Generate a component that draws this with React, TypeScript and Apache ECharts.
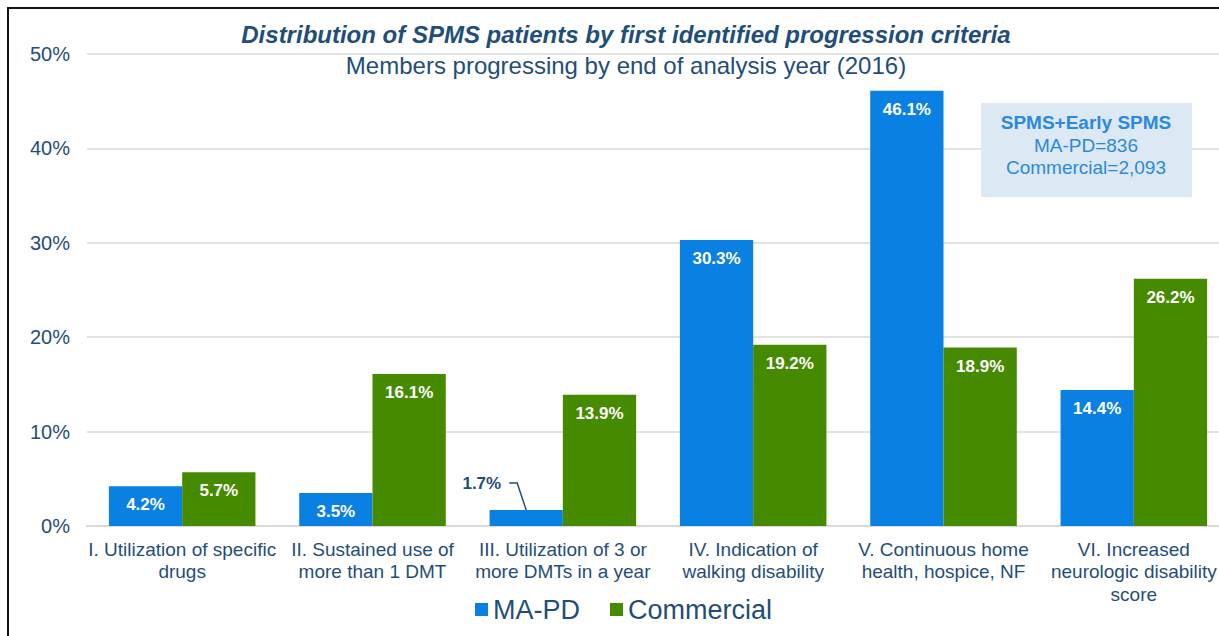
import React, { useEffect, useRef } from "react";
import * as echarts from "echarts";

const titleText = "Distribution of SPMS patients by first identified progression criteria";
const subtitleText = "Members progressing by end of analysis year (2016)";

const categories = [
  "I. Utilization of specific\ndrugs",
  "II. Sustained use of\nmore than 1 DMT",
  "III. Utilization of 3 or\nmore DMTs in a year",
  "IV. Indication of\nwalking disability",
  "V. Continuous home\nhealth, hospice, NF",
  "VI. Increased\nneurologic disability\nscore",
];

const seriesNames = ["MA-PD", "Commercial"];
const maPdValues = [4.2, 3.5, 1.7, 30.3, 46.1, 14.4];
const commercialValues = [5.7, 16.1, 13.9, 19.2, 18.9, 26.2];

const yMin = 0;
const yMax = 50;
const yInterval = 10;

const boxTitle = "SPMS+Early SPMS";
const boxLines = ["MA-PD=836", "Commercial=2,093"];

const DARK = "#1F4E79";
const BLUE = "#0A80E2";
const GREEN = "#468A00";
const FONT = "'Liberation Sans', Arial, sans-serif";
const SMALL = 3; // values below this get an outside label with a leader line
const CAT_GAP = 0.23;

const fmt = (v: number) => `${v.toFixed(1)}%`;

function buildData(values: number[]) {
  return values.map((v) => (v < SMALL ? { value: v, label: { show: false } } : { value: v }));
}

// small-value callouts: [categoryIndex, value, seriesIndex]
const callouts: number[][] = [];
maPdValues.forEach((v, i) => v < SMALL && callouts.push([i, v, 0]));
commercialValues.forEach((v, i) => v < SMALL && callouts.push([i, v, 1]));

export default function App() {
  const ref = useRef<HTMLDivElement>(null);

  useEffect(() => {
    if (!ref.current) return;
    const chart = echarts.init(ref.current, undefined, { renderer: "svg" });

    const labelStyle = {
      show: true,
      position: "insideTop",
      distance: 10,
      color: "#ffffff",
      fontWeight: "bold",
      fontSize: 17,
      fontFamily: FONT,
      formatter: (p: any) => fmt(Number(p.value)),
    };

    chart.setOption({
      animation: false,
      backgroundColor: "#ffffff",
      textStyle: { fontFamily: FONT },
      title: [
        {
          text: titleText,
          left: 621,
          top: 17,
          textAlign: "center",
          textStyle: { color: DARK, fontSize: 24, fontWeight: "bold", fontStyle: "italic", fontFamily: FONT },
        },
        {
          text: subtitleText,
          left: 621,
          top: 48,
          textAlign: "center",
          textStyle: { color: DARK, fontSize: 24, fontWeight: "normal", fontFamily: FONT },
        },
      ],
      legend: {
        data: seriesNames,
        left: 470,
        top: 591,
        itemWidth: 13,
        itemHeight: 13,
        itemGap: 30,
        icon: "rect",
        textStyle: { color: DARK, fontSize: 27, fontFamily: FONT },
      },
      grid: { left: 87, right: 0, top: 54, bottom: 110, containLabel: false },
      xAxis: {
        type: "category",
        data: categories,
        axisLine: { lineStyle: { color: "#D9D9D9", width: 2 } },
        axisTick: { show: false },
        axisLabel: {
          interval: 0,
          color: DARK,
          fontSize: 19,
          lineHeight: 22.5,
          margin: 12,
          fontFamily: FONT,
          align: "center",
        },
      },
      yAxis: {
        type: "value",
        min: yMin,
        max: yMax,
        interval: yInterval,
        axisLine: { show: false },
        axisTick: { show: false },
        splitLine: { lineStyle: { color: "#D9D9D9", width: 1.5 } },
        axisLabel: { formatter: "{value}%", color: DARK, fontSize: 20, margin: 17, fontFamily: FONT },
      },
      series: [
        {
          name: seriesNames[0],
          type: "bar",
          barGap: "0%",
          barCategoryGap: `${CAT_GAP * 100}%`,
          itemStyle: { color: BLUE },
          label: labelStyle,
          data: buildData(maPdValues),
        },
        {
          name: seriesNames[1],
          type: "bar",
          barGap: "0%",
          barCategoryGap: `${CAT_GAP * 100}%`,
          itemStyle: { color: GREEN },
          label: labelStyle,
          data: buildData(commercialValues),
        },
        {
          name: "callouts",
          type: "custom",
          silent: true,
          z: 5,
          data: callouts,
          renderItem: (params: any, api: any) => {
            const idx = api.value(0);
            const val = api.value(1);
            const sIdx = api.value(2);
            const pt = api.coord([idx, val]);
            const band = api.size([1, 0])[0];
            const barW = (band * (1 - CAT_GAP)) / 2;
            const cx = pt[0] + (sIdx === 0 ? -barW / 2 : barW / 2);
            const top = pt[1];
            const kneeX = cx - 9;
            const kneeY = top - 27;
            const endX = kneeX - 8;
            return {
              type: "group",
              children: [
                {
                  type: "polyline",
                  shape: { points: [[cx, top], [kneeX, kneeY], [endX, kneeY]] },
                  style: { stroke: DARK, lineWidth: 1.5, fill: "none" },
                },
                {
                  type: "text",
                  x: endX - 8,
                  y: kneeY + 1,
                  style: {
                    text: fmt(val),
                    fill: DARK,
                    font: `bold 17px ${FONT}`,
                    textAlign: "right",
                    textVerticalAlign: "middle",
                  },
                },
              ],
            };
          },
        },
      ],
      graphic: [
        { type: "rect", shape: { x: 7, y: 7, width: 2, height: 629 }, style: { fill: "#111111" }, z: 100 },
        { type: "rect", shape: { x: 7, y: 7, width: 1212, height: 2 }, style: { fill: "#111111" }, z: 100 },
        {
          type: "group",
          left: 981,
          top: 103,
          z: 50,
          children: [
            { type: "rect", z: 50, shape: { x: 0, y: 0, width: 211, height: 94 }, style: { fill: "#DCE8F4" } },
            {
              type: "text",
              z: 51,
              x: 105,
              y: 19,
              style: {
                text: boxTitle,
                fill: "#2A8ADB",
                font: `bold 19px ${FONT}`,
                textAlign: "center",
                textVerticalAlign: "middle",
              },
            },
            ...boxLines.map((t, i) => ({
              type: "text",
              z: 51,
              x: 105,
              y: 42 + i * 22.5,
              style: {
                text: t,
                fill: "#2A8ADB",
                font: `19px ${FONT}`,
                textAlign: "center",
                textVerticalAlign: "middle",
              },
            })),
          ],
        },
      ],
    });

    return () => chart.dispose();
  }, []);

  return (
    <div style={{ position: "fixed", left: 0, top: 0, width: 1219, height: 636, overflow: "hidden", background: "#fff" }}>
      <div ref={ref} style={{ position: "absolute", left: 0, top: 0, width: 1229, height: 636 }} />
    </div>
  );
}
